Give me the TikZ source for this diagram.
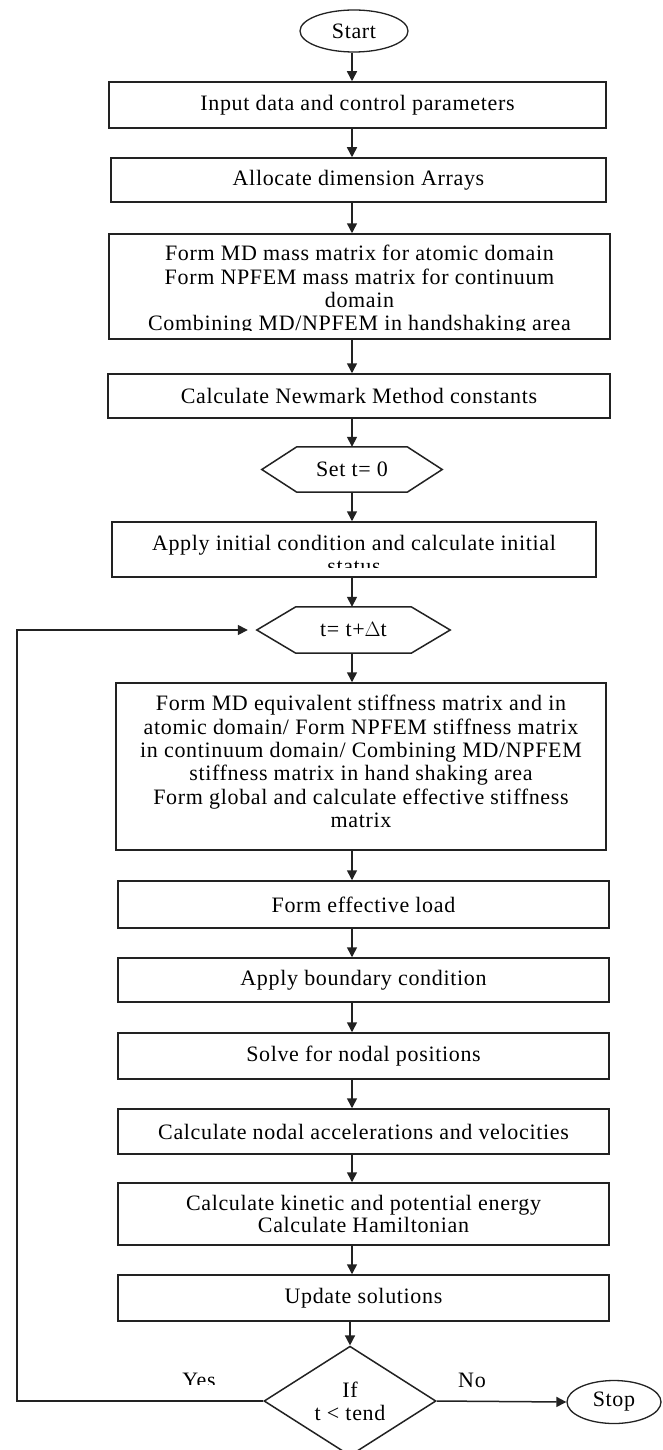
\documentclass[tikz,border=0pt]{standalone}
\usepackage{fontspec}
\setmainfont{Liberation Serif}[LetterSpace=3]
\usetikzlibrary{arrows.meta,shapes.geometric}
\definecolor{ink}{HTML}{222222}
\begin{document}
\begin{tikzpicture}[x=1pt,y=-1pt,
  font=\fontsize{22}{23.3}\selectfont,
  procbox/.style={draw=ink,line width=1.5pt,rectangle,inner sep=0pt,align=center},
  termnode/.style={draw=ink,line width=1.3pt,ellipse,inner sep=0pt},
  hexnode/.style={rectangle,inner sep=0pt,align=center},
  hexline/.style={draw=ink,line width=1.5pt},
  flow/.style={draw=ink,line width=1.5pt,-{Triangle[length=10pt,width=10pt]}},
  lbl/.style={inner sep=0pt,align=center}]
\fill[white] (0,0) rectangle (663,1450);
\useasboundingbox (0,0) rectangle (663,1450);

% terminals
\node[termnode,minimum width=108pt,minimum height=42pt] (start) at (354,31) {Start};
\node[termnode,minimum width=94pt,minimum height=43pt] (stop) at (614,1402) {Stop};

% set-up steps
\node[procbox,minimum width=497pt,minimum height=46pt] (input) at (357.5,105) {Input data and control parameters};
\node[procbox,minimum width=495pt,minimum height=44pt] (alloc) at (358.5,180) {Allocate dimension Arrays};
\node[procbox,minimum width=501pt,minimum height=105pt] (mass) at (359.5,286.5) {};
\begin{scope}
  \clip (mass.north west) rectangle ([yshift=9pt]mass.south east);
  \node[lbl] (masstext) at ([yshift=-4pt]mass.center) {Form MD mass matrix for atomic domain\\
    Form NPFEM mass matrix for continuum\\ domain\\ Combining MD/NPFEM in handshaking area};
\end{scope}
\node[procbox,minimum width=502pt,minimum height=44pt] (newmark) at (359,396) {Calculate Newmark Method constants};

% t = 0
\node[hexnode,minimum width=180pt,minimum height=45pt] (hexa) at (352,469.5) {Set t= 0};
\draw[hexline] (hexa.west) -- ([xshift=35pt]hexa.north west) -- ([xshift=-35pt]hexa.north east)
  -- (hexa.east) -- ([xshift=-35pt]hexa.south east) -- ([xshift=35pt]hexa.south west) -- cycle;

\node[procbox,minimum width=484pt,minimum height=55pt] (initial) at (354,549.5) {};
\begin{scope}
  \clip (initial.north west) rectangle ([yshift=10pt]initial.south east);
  \node[lbl] (initialtext) at ([yshift=-5pt]initial.center) {Apply initial condition and calculate initial\\ status};
\end{scope}

% time step
\node[hexnode,minimum width=193pt,minimum height=46pt] (hexb) at (353.5,630) {t= t+$\Delta$t};
\draw[hexline] (hexb.west) -- ([xshift=39pt]hexb.north west) -- ([xshift=-39pt]hexb.north east)
  -- (hexb.east) -- ([xshift=-39pt]hexb.south east) -- ([xshift=39pt]hexb.south west) -- cycle;

\node[procbox,minimum width=490pt,minimum height=167pt] (stiff) at (361,766.5) {};
\node[lbl] (stifftext) at ([yshift=5pt]stiff.center) {Form MD equivalent stiffness matrix and in\\
  atomic domain/ Form NPFEM stiffness matrix\\ in continuum domain/ Combining MD/NPFEM\\
  stiffness matrix in hand shaking area\\ Form global and calculate effective stiffness\\ matrix};
\node[procbox,minimum width=491pt,minimum height=47pt] (load) at (363.5,904.5) {Form effective load};
\node[procbox,minimum width=491pt,minimum height=44pt] (bound) at (363.5,980) {Apply boundary condition};
\node[procbox,minimum width=491pt,minimum height=46pt] (solve) at (363.5,1056) {Solve for nodal positions};
\node[procbox,minimum width=491pt,minimum height=45pt] (accel) at (363.5,1131.5) {Calculate nodal accelerations and velocities};
\node[procbox,minimum width=491pt,minimum height=62pt] (energy) at (363.5,1214) {Calculate kinetic and potential energy\\[-1.5pt] Calculate Hamiltonian};
\node[procbox,minimum width=491pt,minimum height=46pt] (update) at (363.5,1298) {Update solutions};

% decision
\node[draw=ink,line width=1.5pt,diamond,minimum width=172pt,minimum height=100pt,inner sep=0pt,align=center]
  (dec) at (350,1401) {If\\ t < tend};

% labels
\begin{scope}
  \clip (170,1360) rectangle (235,1384);
  \node[lbl] (yes) at (199,1380) {Yes};
\end{scope}
\node[lbl] (no) at (472,1380) {No};

% connectors
\coordinate (col) at (352,0);
\draw[flow] (start.south -| col) -- (input.north -| col);
\draw[flow] (input.south -| col) -- (alloc.north -| col);
\draw[flow] (alloc.south -| col) -- (mass.north -| col);
\draw[flow] (mass.south -| col) -- (newmark.north -| col);
\draw[flow] (newmark.south -| col) -- (hexa.north -| col);
\draw[flow] (hexa.south -| col) -- (initial.north -| col);
\draw[flow] (initial.south -| col) -- (hexb.north -| col);
\draw[flow] (hexb.south -| col) -- (stiff.north -| col);
\draw[flow] (stiff.south -| col) -- (load.north -| col);
\draw[flow] (load.south -| col) -- (bound.north -| col);
\draw[flow] (bound.south -| col) -- (solve.north -| col);
\draw[flow] (solve.south -| col) -- (accel.north -| col);
\draw[flow] (accel.south -| col) -- (energy.north -| col);
\draw[flow] (energy.south -| col) -- (update.north -| col);
\draw[flow] (update.south -| dec.north) -- (dec.north);
\draw[flow] (dec.east) -- (stop.west);

% loop back to the time step
\coordinate (loopcorner) at (17,1401);
\draw[flow,shorten >=9pt] (dec.west) -- (dec.west -| loopcorner) -- (loopcorner |- hexb.west) -- (hexb.west);
\end{tikzpicture}
\end{document}
